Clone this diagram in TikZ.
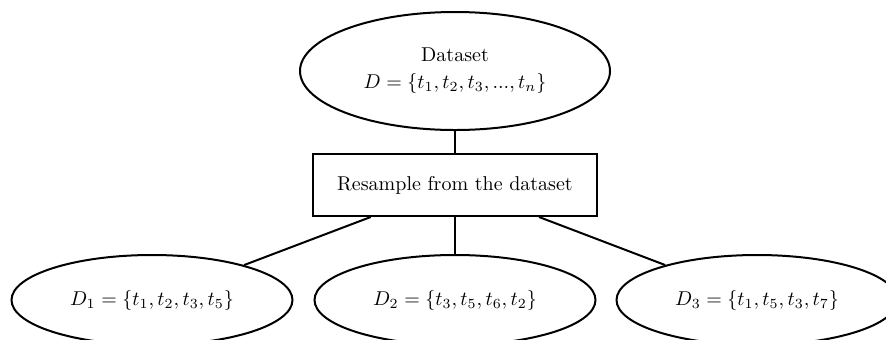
\documentclass[tikz,border=0pt]{standalone}
\usetikzlibrary{shapes.geometric}
\begin{document}
\begin{tikzpicture}[x=0.5pt,y=-0.5pt,line width=1pt,
  ell/.style={ellipse,draw,inner sep=0pt,align=center},
  topell/.style={ell,minimum width=155pt,minimum height=59pt},
  botell/.style={ell,minimum width=140.5pt,minimum height=45pt},
  box/.style={rectangle,draw,inner sep=0pt,minimum width=142pt,minimum height=31pt}]
\useasboundingbox (0,0) rectangle (886,339);
\clip (0,0) rectangle (886,339);
\node[topell] (ds) at (455,71) {Dataset\\[1.5pt] $D=\{t_1,t_2,t_3,...,t_n\}$};
\node[box] (rs) at (455,185) {Resample from the dataset};
\node[botell] (d1) at (152,300) {$D_1=\{t_1,t_2,t_3,t_5\}$};
\node[botell] (d2) at (455,300) {$D_2=\{t_3,t_5,t_6,t_2\}$};
\node[botell] (d3) at (757,300) {$D_3=\{t_1,t_5,t_3,t_7\}$};
\draw (ds) -- (rs);
\draw (rs) -- (d1);
\draw (rs) -- (d2);
\draw (rs) -- (d3);
\end{tikzpicture}
\end{document}
